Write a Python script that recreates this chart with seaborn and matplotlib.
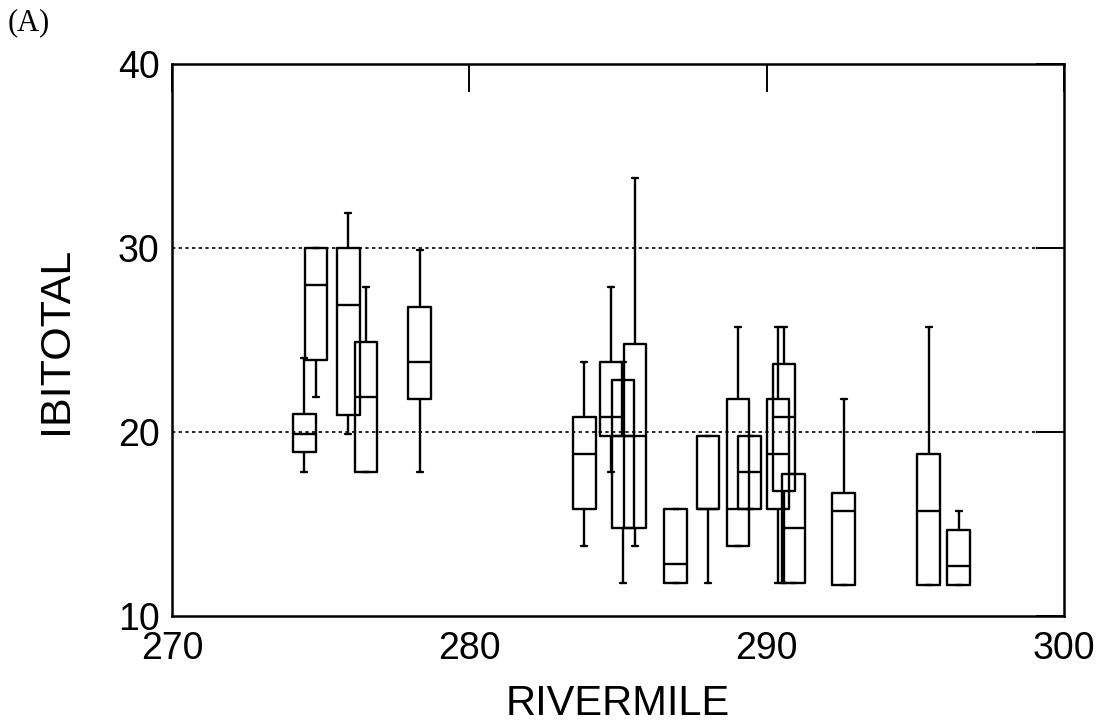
import numpy as np
import pandas as pd
import matplotlib
matplotlib.use("Agg")
import matplotlib.pyplot as plt
import seaborn as sns

# river mile of each sampling site and the five-number summary of IBITOTAL there
rivermile = [274.45, 274.85, 275.93, 276.53, 278.33,
             283.87, 284.77, 285.17, 285.57, 286.94,
             288.03, 289.04, 289.43, 290.38, 290.58,
             290.90, 292.59, 295.45, 296.46]
ibi_low = [17.8, 21.9, 19.9, 17.8, 17.8,
           13.8, 17.8, 11.8, 13.8, 11.8,
           11.8, 13.8, 15.8, 11.8, 11.8,
           11.8, 11.7, 11.7, 11.7]
ibi_q1 = [18.9, 23.9, 20.9, 17.8, 21.8,
          15.8, 19.8, 14.8, 14.8, 11.8,
          15.8, 13.8, 15.8, 15.8, 16.8,
          11.8, 11.7, 11.7, 11.7]
ibi_median = [19.9, 28.0, 26.9, 21.9, 23.8,
              18.8, 20.8, 19.8, 19.8, 12.8,
              15.8, 15.8, 17.8, 18.8, 20.8,
              14.8, 15.7, 15.7, 12.7]
ibi_q3 = [21.0, 30.0, 30.0, 24.9, 26.8,
          20.8, 23.8, 22.8, 24.8, 15.8,
          19.8, 21.8, 19.8, 21.8, 23.7,
          17.7, 16.7, 18.8, 14.7]
ibi_high = [24.0, 30.0, 31.9, 27.9, 29.9,
            23.8, 27.9, 23.8, 33.8, 15.8,
            19.8, 25.7, 19.8, 25.7, 25.7,
            17.7, 21.8, 25.7, 15.7]
ref_lines = [20, 30]

# long-form table: the five summary values per site reproduce the box exactly
rows = []
for i, rm in enumerate(rivermile):
    for v in (ibi_low[i], ibi_q1[i], ibi_median[i], ibi_q3[i], ibi_high[i]):
        rows.append({"RIVERMILE": rm, "IBITOTAL": v})
df = pd.DataFrame(rows)

sns.set_style("white")
plt.rcParams["font.family"] = ["Liberation Sans", "DejaVu Sans"]
plt.rcParams["text.color"] = "black"
plt.rcParams["axes.labelcolor"] = "black"

fig = plt.figure(figsize=(11.09, 7.23), dpi=100)
ax = fig.add_axes([0.155, 0.148, 0.8044, 0.7635])

box_w = 0.76
native = np.min(np.diff(np.sort(rivermile)))
sns.boxplot(data=df, x="RIVERMILE", y="IBITOTAL", native_scale=True,
            fill=False, color="black", linewidth=1.7, whis=np.inf,
            width=box_w / native, ax=ax)

# narrow the whisker caps like the original plot
for ln in ax.lines:
    xd, yd = np.asarray(ln.get_xdata(), float), np.asarray(ln.get_ydata(), float)
    if len(xd) == 2 and yd[0] == yd[1] and 0 < abs(xd[1] - xd[0]) < box_w * 0.9:
        c = xd.mean()
        ln.set_xdata([c - 0.1, c + 0.1])

for v in ref_lines:
    ax.axhline(v, color="black", linestyle=(0, (2, 2)), linewidth=1.2, zorder=0)

ax.set_xlim(270, 300)
ax.set_ylim(10, 40)
ax.set_xticks([270, 280, 290, 300])
ax.set_yticks([10, 20, 30, 40])
ax.tick_params(direction="in", length=20, width=1.4, labelsize=27,
               top=True, right=True, left=False, labelleft=True,
               colors="black", labelcolor="black")
ax.tick_params(axis="x", pad=11)
ax.tick_params(axis="y", pad=9)
for s in ax.spines.values():
    s.set_visible(True)
    s.set_color("black")
    s.set_linewidth(1.8)

ax.set_xlabel("RIVERMILE", fontsize=30, labelpad=12, color="black")
ax.set_ylabel("IBITOTAL", fontsize=31, labelpad=30, color="black")

fig.text(0.007, 0.988, "(A)", fontsize=22, family=["Liberation Serif", "DejaVu Serif"],
         ha="left", va="top", color="black")

fig.savefig("out.png", dpi=100)
